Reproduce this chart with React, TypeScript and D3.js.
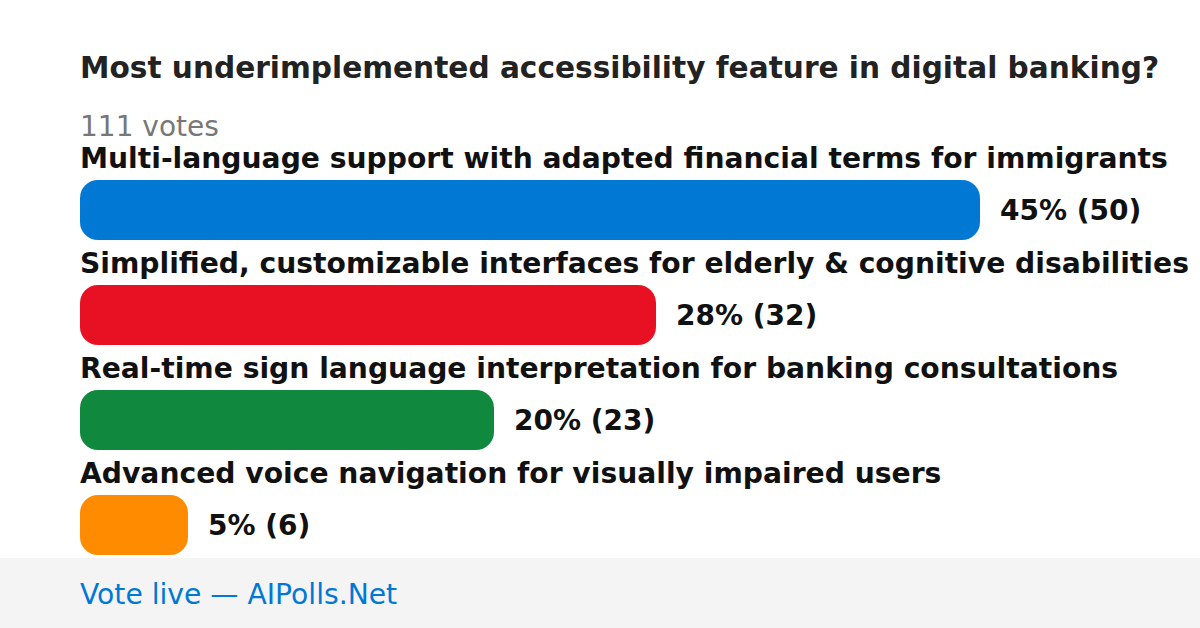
import React from "react";
import * as d3 from "d3";

const categories = [
  "Multi-language support with adapted financial terms for immigrants",
  "Simplified, customizable interfaces for elderly & cognitive disabilities",
  "Real-time sign language interpretation for banking consultations",
  "Advanced voice navigation for visually impaired users",
];
const votes = [50, 32, 23, 6];
const colors = ["#0078D4", "#E81123", "#10893E", "#FF8C00"];
const title = "Most underimplemented accessibility feature in digital banking?";
const totalVotes = 111;
const footer = "Vote live — AIPolls.Net";

const W = 1200;
const H = 628;
const font = "'DejaVu Sans', sans-serif";

export default function App() {
  const x = d3.scaleLinear().domain([0, 50]).range([0, 900]);
  const y = d3.scaleBand<number>().domain(d3.range(categories.length)).range([145, 565]).paddingInner(0);
  return (
    <svg width={W} height={H} style={{ position: "absolute", left: 0, top: 0 }} xmlns="http://www.w3.org/2000/svg">
      <rect x={0} y={0} width={W} height={H} fill="#ffffff" />
      <text x={80} y={78} fontFamily={font} fontWeight="bold" fontSize={29.6} fill="#222222">{title}</text>
      <text x={80} y={136} fontFamily={font} fontSize={28} fill="#777777">{totalVotes} votes</text>
      {categories.map((c, i) => {
        const top = y(i)!;
        const w = x(votes[i]);
        const pct = Math.floor((votes[i] / totalVotes) * 100);
        return (
          <g key={i}>
            <text x={80} y={top + 23} fontFamily={font} fontWeight="bold" fontSize={28.2} fill="#111111">{c}</text>
            <rect x={80} y={top + 35} width={w} height={60} rx={18} ry={18} fill={colors[i]} />
            <text x={80 + w + 20} y={top + 65} dominantBaseline="central" fontFamily={font} fontWeight="bold" fontSize={28} fill="#111111">
              {pct}% ({votes[i]})
            </text>
          </g>
        );
      })}
      <rect x={0} y={558} width={W} height={70} fill="#f4f4f4" />
      <text x={80} y={604} fontFamily={font} fontSize={28.2} fill="#0078D4">{footer}</text>
    </svg>
  );
}
